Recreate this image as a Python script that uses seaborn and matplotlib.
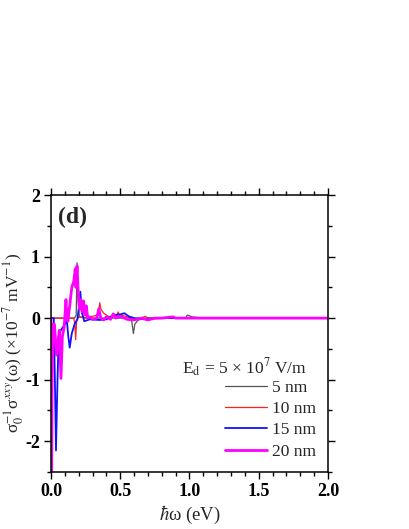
import numpy as np
import pandas as pd
import matplotlib
matplotlib.use("Agg")
import matplotlib.pyplot as plt
import seaborn as sns
from matplotlib.ticker import MultipleLocator

# data
x5 = [0, 0.17, 0.182, 0.188, 0.195, 0.205, 0.25, 0.5, 0.58, 0.595, 0.605, 0.63, 0.7, 0.97, 0.985, 1.02, 1.1, 2.0]
y5 = [0, 0, 0.05, 0.9, 0.3, 0.02, 0, 0, 0, -0.25, -0.1, -0.03, 0, 0, 0.05, 0.02, 0, 0]

x10 = [0, 0.165, 0.172, 0.178, 0.185, 0.2, 0.25, 0.3, 0.34, 0.352, 0.36, 0.38, 0.42, 0.47, 0.485,
       0.495, 0.51, 0.55, 0.6, 0.65, 0.68, 0.7, 2.0]
y10 = [0, 0, -0.1, -0.35, -0.05, 0.02, 0.01, 0.03, 0.05, 0.25, 0.15, 0.08, 0.02, 0.02, 0.1,
       0.03, 0.05, 0.02, -0.02, 0.0, 0.03, 0, 0]

x15 = [0, 0.02, 0.028, 0.036, 0.045, 0.055, 0.07, 0.1, 0.115, 0.125, 0.135, 0.15, 0.17, 0.19, 0.2,
       0.212, 0.222, 0.24, 0.28, 0.35, 0.4, 0.45, 0.5, 0.53, 0.56, 0.6, 0.7, 0.8, 2.0]
y15 = [0, 0, -1.0, -2.15, -1.2, -0.3, -0.2, -0.1, -0.05, -0.3, -0.48, -0.25, -0.1, -0.02, 0.15,
       0.43, 0.1, -0.05, -0.02, -0.03, -0.02, 0.05, 0.06, 0.08, 0.03, 0.0, -0.01, 0, 0]

x20 = [0, 0.004, 0.008, 0.015, 0.025, 0.04, 0.05, 0.06, 0.072, 0.082, 0.095, 0.108, 0.115, 0.122,
       0.135, 0.15, 0.165, 0.175, 0.18, 0.188, 0.195, 0.205, 0.215, 0.225, 0.235, 0.245, 0.255,
       0.265, 0.28, 0.3, 0.33, 0.345, 0.36, 0.38, 0.4, 0.43, 0.45, 0.47, 0.5, 0.55, 0.6, 0.65,
       0.7, 0.75, 0.8, 0.88, 0.9, 1.0, 2.0]
y20 = [0, -2.8, -1.0, -0.1, -0.1, -0.6, -0.4, -0.2, -0.98, -0.3, -0.15, 0.3, 0.0, -0.05,
       0.2, 0.5, 0.6, 0.8, 0.5, 0.85, 0.5, 0.15, 0.3, 0.1, 0.28, 0.05, 0.2,
       0.0, 0.02, -0.02, 0.0, 0.15, 0.0, -0.03, 0.02, -0.02, 0.07, 0.0, 0.03, -0.02, -0.03, 0.0,
       -0.03, 0.0, 0.0, 0.02, 0, 0, 0]

labels = ["5 nm", "10 nm", "15 nm", "20 nm"]
colors = ["#555555", "#ff2020", "#1010ff", "#ff00ff"]
widths = [0.9, 0.9, 1.3, 2.0]

sns.set_style("ticks")
plt.rcParams["font.family"] = ["Liberation Serif", "DejaVu Serif"]
plt.rcParams["mathtext.fontset"] = "stix"
plt.rcParams["axes.unicode_minus"] = False

fig = plt.figure(figsize=(4.09, 5.29), dpi=100)
ax = fig.add_axes([51 / 409, 1 - 472 / 529, 277 / 409, 277 / 529])

series = [(x5, y5), (x10, y10), (x15, y15), (x20, y20)]
for (xs, ys), lab, c, w in zip(series, labels, colors, widths):
    df = pd.DataFrame({"x": xs, "y": ys})
    sns.lineplot(data=df, x="x", y="y", ax=ax, color=c, lw=w, label=lab, sort=False)

ax.set_xlim(0, 2)
ax.set_ylim(-2.5, 2)
ax.xaxis.set_major_locator(MultipleLocator(0.5))
ax.xaxis.set_minor_locator(MultipleLocator(0.1))
ax.yaxis.set_major_locator(MultipleLocator(1))
ax.yaxis.set_minor_locator(MultipleLocator(0.5))
ax.tick_params(which="both", direction="out", top=True, right=True, width=1, colors="black")
ax.tick_params(which="major", length=5, labelsize=13, pad=3)
ax.tick_params(which="minor", length=3)
for lbl in ax.get_xticklabels() + ax.get_yticklabels():
    lbl.set_fontweight("bold")
for s in ax.spines.values():
    s.set_linewidth(1.1)
    s.set_color("black")

ax.set_xlabel(r"$\hbar$ω (eV)", fontsize=13.5, labelpad=3)
ax.set_ylabel(r"σ$_0^{-1}$σ$^{xxy}$(ω) (×10$^{-7}$ mV$^{-1}$)", fontsize=12.5)
ax.yaxis.set_label_coords(-0.09, 0.466)

ax.text(0.025, 0.92, "(d)", transform=ax.transAxes, fontsize=17, fontweight="bold",
        ha="left", va="center")
ax.text(0.473, 0.375, r"E$_\mathrm{d}$ = 5 × 10$^7$ V/m", transform=ax.transAxes,
        fontsize=12.5, ha="left", va="center")

leg = ax.legend(loc="lower right", bbox_to_anchor=(1.0, 0.0), frameon=False, fontsize=12.5,
                handlelength=2.4, handletextpad=0.3, labelspacing=0.3, borderaxespad=0.3)

fig.savefig("out.png", dpi=100)
